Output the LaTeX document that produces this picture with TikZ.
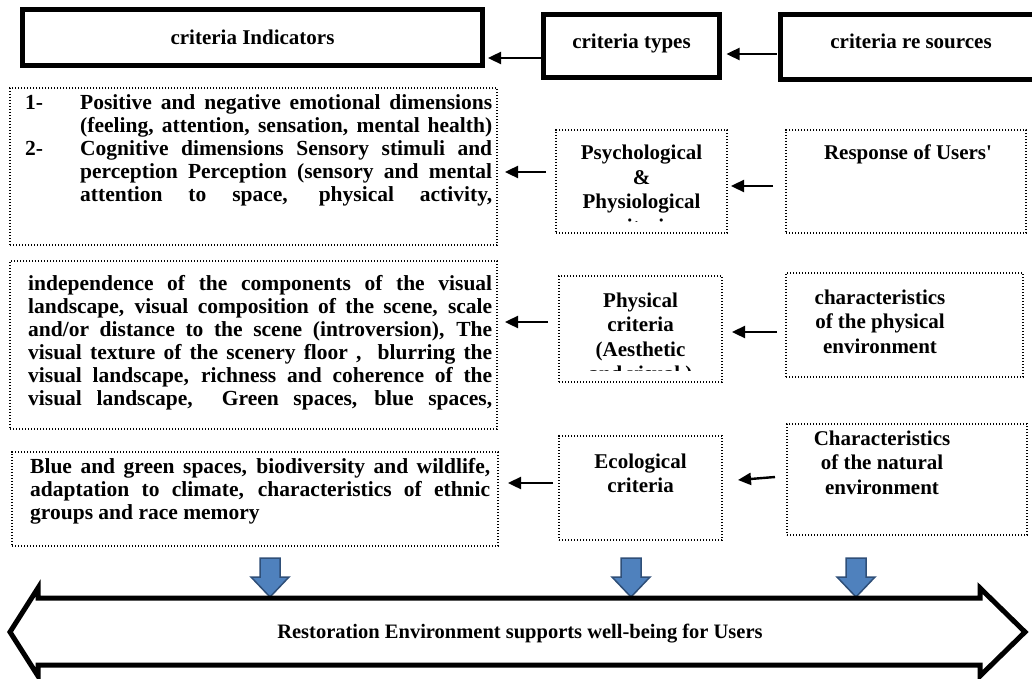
\documentclass[tikz,border=0pt]{standalone}
\usepackage{fontspec}
\setmainfont{Liberation Serif}
\usetikzlibrary{arrows.meta}
\definecolor{arrblue}{HTML}{4F81BD}
\definecolor{arrblueedge}{HTML}{2F4F78}
\begin{document}
\begin{tikzpicture}[x=1pt,y=-1pt,
  thickbox/.style={draw=black, line width=5pt, inner sep=0pt, outer sep=0pt},
  dotbox/.style={draw=black, line width=1.3pt, dash pattern=on 1.3pt off 1.7pt, inner sep=0pt, outer sep=0pt},
  txtA/.style={font=\fontsize{21.5}{23}\selectfont\bfseries, inner sep=0pt, anchor=base west},
  txtB/.style={font=\fontsize{21}{24.5}\selectfont\bfseries, inner sep=0pt, anchor=base},
  arr/.style={line width=2.4pt, -{Triangle[length=13pt,width=12pt]}},
  blockarr/.style={fill=arrblue, draw=arrblueedge, line width=1.5pt, line join=miter},
  bigarr/.style={draw=black, line width=5pt, line join=miter, fill=white},
]
\useasboundingbox (0,0) rectangle (1032,679);

% header boxes
\node[thickbox, minimum width=460pt, minimum height=56pt] (T1) at (252.5,37.5) {};
\node[thickbox, minimum width=176pt, minimum height=63pt] (T2) at (631.5,46) {};
\node[thickbox, minimum width=256pt, minimum height=65pt] (T3) at (908.5,47) {};
\node[txtB] (T1t) at (252.5,45) {criteria Indicators};
\node[txtB] (T2t) at (631.5,49) {criteria types};
\node[txtB] (T3t) at (911,49) {criteria re sources};

% indicator boxes
\node[dotbox, minimum width=487pt, minimum height=157pt] (A1) at (253.5,166.5) {};
\node[dotbox, minimum width=487pt, minimum height=168pt] (A2) at (253.5,345) {};
\node[dotbox, minimum width=486pt, minimum height=94pt] (A3) at (255,499) {};

\node[txtA] (A1t) at (25,110) {\parbox[t]{467pt}{%
\makebox[55pt][l]{1-}\makebox[412pt][s]{Positive and negative emotional dimensions}\\
\hspace*{55pt}\makebox[412pt][s]{(feeling, attention, sensation, mental health)}\\
\makebox[55pt][l]{2-}\makebox[412pt][s]{Cognitive dimensions Sensory stimuli and}\\
\hspace*{55pt}\makebox[412pt][s]{perception Perception (sensory and mental}\\
\hspace*{55pt}\makebox[412pt][s]{attention to space, physical activity,}}};

\node[txtA] (A2t) at (28,290) {\parbox[t]{464pt}{%
\makebox[464pt][s]{independence of the components of the visual}\\
\makebox[464pt][s]{landscape, visual composition of the scene, scale}\\
\makebox[464pt][s]{and/or distance to the scene (introversion), The}\\
\makebox[464pt][s]{visual texture of the scenery floor ,\ \ blurring the}\\
\makebox[464pt][s]{visual landscape, richness and coherence of the}\\
\makebox[464pt][s]{visual landscape,\ \ Green spaces, blue spaces,}}};

\node[txtA] (A3t) at (30,473) {\parbox[t]{460pt}{%
\makebox[460pt][s]{Blue and green spaces, biodiversity and wildlife,}\\
\makebox[460pt][s]{adaptation to climate, characteristics of ethnic}\\
groups and race memory}};

% criteria type boxes
\node[dotbox, minimum width=171pt, minimum height=103pt] (B1) at (641.5,181.5) {};
\node[dotbox, minimum width=163pt, minimum height=106pt] (B2) at (640.5,329) {};
\node[dotbox, minimum width=163pt, minimum height=104pt] (B3) at (640.5,488) {};
\begin{scope}
  \clip (558,132) rectangle (725,221);
  \node[txtB] (B1t) at (641.5,160) {\parbox[t]{200pt}{\centering Psychological\\\&\\Physiological\\criteria}};
\end{scope}
\begin{scope}
  \clip (561,278) rectangle (720,370);
  \node[txtB] (B2t) at (640.5,307) {\parbox[t]{200pt}{\centering Physical\\criteria\\(Aesthetic\\and visual )}};
\end{scope}
\node[txtB] (B3t) at (640.5,468) {\parbox[t]{200pt}{\centering Ecological\\criteria}};

% resource boxes
\node[dotbox, minimum width=240pt, minimum height=103pt] (C1) at (906,181.5) {};
\node[dotbox, minimum width=237pt, minimum height=104pt] (C2) at (904.5,325) {};
\node[dotbox, minimum width=240pt, minimum height=111pt] (C3) at (907,479.5) {};
\node[txtB] (C1t) at (908,160) {Response of Users\textquotesingle};
\node[txtB] (C2t) at (880,304) {\parbox[t]{220pt}{\centering characteristics\\of the physical\\environment}};
\node[txtB] (C3t) at (882,445) {\parbox[t]{220pt}{\centering Characteristics\\of the natural\\environment}};

% connectors
\draw[arr] ([xshift=-3pt]T2.west |- 0,58) -- ([xshift=5.5pt]T1.east |- 0,58);
\draw[arr] ([xshift=-4pt]T3.west |- 0,54) -- ([xshift=7pt]T2.east |- 0,54);
\draw[arr] ([xshift=-10pt]B1.west |- 0,172) -- ([xshift=8pt]A1.east |- 0,172);
\draw[arr] ([xshift=-13pt]C1.west |- 0,186) -- ([xshift=4pt]B1.east |- 0,186);
\draw[arr] ([xshift=-11pt]B2.west |- 0,322) -- ([xshift=8pt]A2.east |- 0,322);
\draw[arr] ([xshift=-9pt]C2.west |- 0,332) -- ([xshift=10pt]B2.east |- 0,332);
\draw[arr] ([xshift=-6pt]B3.west |- 0,483) -- ([xshift=10pt]A3.east |- 0,483);
\draw[arr] ([xshift=-12pt]C3.west |- 0,477) -- ([xshift=16pt]B3.east |- 0,480);

% blue block arrows
\foreach \cx in {270,631,856}
  \draw[blockarr] (\cx-10,558) -- (\cx+10,558) -- (\cx+10,577) -- (\cx+19,577) -- (\cx,597) -- (\cx-19,577) -- (\cx-10,577) -- cycle;

% big double arrow
\draw[bigarr] (10,632) -- (38,588) -- (38,598) -- (980,598) -- (980,588) -- (1025,632) -- (980,676) -- (980,665) -- (38,665) -- (38,676) -- cycle;
\node[txtB, font=\fontsize{20.5}{24}\selectfont\bfseries] (R) at (520,638) {Restoration Environment supports well-being for Users};
\end{tikzpicture}
\end{document}
